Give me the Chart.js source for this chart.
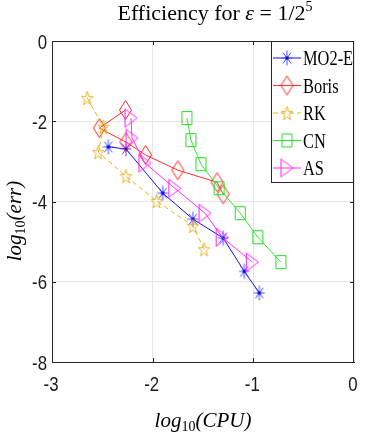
<!DOCTYPE html>
<html>
<head>
<meta charset="utf-8">
<script src="https://cdn.jsdelivr.net/npm/chart.js@4"></script>
<style>
  body { margin: 0; background: #fff; }
  canvas { display: block; }
</style>
</head>
<body>
<canvas id="grafico" width="392" height="436"></canvas>
<script>
// ---------- Datos (log10 CPU vs log10 err) ----------

const metodos = ['MO2-E', 'Boris', 'RK', 'CN', 'AS'];

const cpuMO2E = [-2.44, -2.265, -1.90, -1.60, -1.30, -1.09, -0.94];
const errMO2E = [-2.64, -2.69, -3.79, -4.44, -4.91, -5.74, -6.28];

const cpuBoris = [-2.27, -2.53, -2.265, -2.07, -1.75, -1.36, -1.30];
const errBoris = [-1.72, -2.17, -2.52, -2.84, -3.22, -3.52, -3.82];

const cpuRK = [-2.65, -2.49, -2.54, -2.265, -1.96, -1.60, -1.49];
const errRK = [-1.42, -2.14, -2.77, -3.37, -3.99, -4.61, -5.19];

const cpuCN = [-1.66, -1.62, -1.52, -1.34, -1.13, -0.955, -0.726];
const errCN = [-1.92, -2.47, -3.07, -3.67, -4.29, -4.89, -5.51];

const cpuAS = [-2.215, -2.205, -2.077, -1.78, -1.48, -1.31, -1.01];
const errAS = [-1.92, -2.42, -3.04, -3.67, -4.29, -4.89, -5.51];

const ticksX = [-3, -2, -1, 0];
const ticksY = [-8, -6, -4, -2, 0];

const EJE = '#262626';

// ---------- Marcadores estilo Matlab ----------

function crearMarcador(tipo, color, w, h) {
  const c = document.createElement('canvas');
  c.width = w + 3;
  c.height = h + 3;
  const g = c.getContext('2d');
  const cx = c.width / 2, cy = c.height / 2, rx = w / 2, ry = h / 2;
  g.strokeStyle = color;
  g.lineWidth = 1;
  g.beginPath();
  if (tipo === 'asterisco') {
    g.moveTo(cx, cy - ry); g.lineTo(cx, cy + ry);
    g.moveTo(cx - rx, cy); g.lineTo(cx + rx, cy);
    g.moveTo(cx - rx * 0.72, cy - ry * 0.72); g.lineTo(cx + rx * 0.72, cy + ry * 0.72);
    g.moveTo(cx - rx * 0.72, cy + ry * 0.72); g.lineTo(cx + rx * 0.72, cy - ry * 0.72);
    g.stroke();
    g.fillStyle = '#0000cc';
    g.fillRect(cx - 1.5, cy - 1.5, 3, 3);
    return c;
  }
  if (tipo === 'diamante') {
    g.moveTo(cx, cy - ry); g.lineTo(cx + rx, cy);
    g.lineTo(cx, cy + ry); g.lineTo(cx - rx, cy);
  } else if (tipo === 'estrella') {
    for (let k = 0; k < 10; k++) {
      const a = -Math.PI / 2 + k * Math.PI / 5;
      const r = k % 2 === 0 ? 1 : 0.4;
      const px = cx + Math.cos(a) * rx * r;
      const py = cy + 0.1 * ry + Math.sin(a) * ry * r;
      if (k === 0) g.moveTo(px, py); else g.lineTo(px, py);
    }
  } else if (tipo === 'cuadrado') {
    g.rect(cx - rx, cy - ry, w, h);
  } else if (tipo === 'triangulo') {
    g.moveTo(cx - rx, cy - ry); g.lineTo(cx + rx, cy); g.lineTo(cx - rx, cy + ry);
  }
  g.closePath();
  g.stroke();
  return c;
}

const estilos = [
  { linea: '#1010ff', marca: crearMarcador('asterisco', '#5050ff', 11, 15), dash: [] },
  { linea: '#ff2a2a', marca: crearMarcador('diamante', '#ff2020', 12, 19), dash: [] },
  { linea: '#EDB120', marca: crearMarcador('estrella', '#EDB120', 12, 15), dash: [5, 3] },
  { linea: '#2ee82e', marca: crearMarcador('cuadrado', '#22e022', 10, 13), dash: [] },
  { linea: '#ff30ff', marca: crearMarcador('triangulo', '#ff22ff', 12, 18), dash: [] }
];

const series = [
  [cpuMO2E, errMO2E],
  [cpuBoris, errBoris],
  [cpuRK, errRK],
  [cpuCN, errCN],
  [cpuAS, errAS]
];

// ---------- Texto con sub/superíndices ----------

function dibujarTrozos(ctx, trozos, x, y) {
  let ancho = 0;
  trozos.forEach(t => { ctx.font = t.f; ancho += ctx.measureText(t.t).width; });
  let px = x - ancho / 2;
  ctx.textBaseline = 'alphabetic';
  ctx.textAlign = 'left';
  trozos.forEach(t => {
    ctx.font = t.f;
    ctx.fillText(t.t, px, y + (t.dy || 0));
    px += ctx.measureText(t.t).width;
  });
}

// texto estrecho (las etiquetas del original son altas y angostas)
function textoEstrecho(ctx, txt, x, y, align, escala) {
  ctx.save();
  ctx.translate(x, y);
  ctx.scale(escala, 1);
  ctx.textAlign = align;
  ctx.textBaseline = 'alphabetic';
  ctx.fillText(txt, 0, 0);
  ctx.restore();
}

const decoraciones = {
  id: 'decoraciones',
  afterDraw(chart) {
    const ctx = chart.ctx;
    const { left, right, top, bottom } = chart.chartArea;
    const sx = chart.scales.x, sy = chart.scales.y;

    ctx.save();
    // caja y marcas interiores
    ctx.strokeStyle = EJE;
    ctx.lineWidth = 1;
    ctx.beginPath();
    ctx.moveTo(left, top + 0.5); ctx.lineTo(right, top + 0.5);
    ctx.moveTo(right - 0.5, top); ctx.lineTo(right - 0.5, bottom);
    ticksX.slice(1, -1).forEach(v => {
      const px = Math.round(sx.getPixelForValue(v)) + 0.5;
      ctx.moveTo(px, bottom); ctx.lineTo(px, bottom - 4);
      ctx.moveTo(px, top); ctx.lineTo(px, top + 4);
    });
    ticksY.slice(1, -1).forEach(v => {
      const py = Math.round(sy.getPixelForValue(v)) + 0.5;
      ctx.moveTo(left, py); ctx.lineTo(left + 4, py);
      ctx.moveTo(right, py); ctx.lineTo(right - 4, py);
    });
    ctx.stroke();

    // etiquetas de las marcas, con las posiciones de las escalas
    ctx.fillStyle = '#1a1a1a';
    ctx.font = '21px "Liberation Sans"';
    sx.ticks.forEach(t => {
      textoEstrecho(ctx, String(t.value), sx.getPixelForValue(t.value) - 1, 391, 'center', 0.8);
    });
    sy.ticks.forEach(t => {
      textoEstrecho(ctx, String(t.value), 47, sy.getPixelForValue(t.value) + 7.5, 'right', 0.8);
    });

    // leyenda
    const lx = 271, ly = 41, lw = 83, lh = 142;
    ctx.fillStyle = '#fff';
    ctx.fillRect(lx, ly, lw, lh);
    ctx.strokeStyle = EJE;
    ctx.strokeRect(lx + 0.5, ly + 0.5, lw - 1, lh - 1);
    metodos.forEach((nombre, i) => {
      const yy = 58 + i * 27.5;
      const e = estilos[i];
      ctx.strokeStyle = e.linea;
      ctx.setLineDash(e.dash);
      ctx.beginPath();
      ctx.moveTo(273, yy); ctx.lineTo(301, yy);
      ctx.stroke();
      ctx.setLineDash([]);
      ctx.drawImage(e.marca, 287 - e.marca.width / 2, yy - e.marca.height / 2);
      ctx.fillStyle = '#000';
      ctx.font = '20px "Liberation Serif"';
      textoEstrecho(ctx, nombre, 303, yy + 7, 'left', 0.82);
    });

    // título
    ctx.fillStyle = '#000';
    dibujarTrozos(ctx, [
      { t: 'Efficiency for ', f: '22px "Liberation Serif"' },
      { t: 'ε', f: 'italic 22px "Liberation Serif"' },
      { t: ' = 1/2', f: '22px "Liberation Serif"' },
      { t: '5', f: '14px "Liberation Serif"', dy: -9 }
    ], 215, 20);

    // etiqueta eje x
    dibujarTrozos(ctx, [
      { t: 'log', f: 'italic 21px "Liberation Serif"' },
      { t: '10', f: '14px "Liberation Serif"', dy: 4 },
      { t: '(CPU)', f: 'italic 21px "Liberation Serif"' }
    ], 203, 427);

    // etiqueta eje y
    ctx.translate(21, 221);
    ctx.rotate(-Math.PI / 2);
    dibujarTrozos(ctx, [
      { t: 'log', f: 'italic 21px "Liberation Serif"' },
      { t: '10', f: '14px "Liberation Serif"', dy: 4 },
      { t: '(err)', f: 'italic 21px "Liberation Serif"' }
    ], 0, 0);
    ctx.restore();
  }
};

// ---------- Gráfica ----------

const ctx = document.getElementById('grafico').getContext('2d');

new Chart(ctx, {
  type: 'scatter',
  data: {
    datasets: series.map((s, i) => ({
      label: metodos[i],
      data: s[0].map((x, k) => ({ x: x, y: s[1][k] })),
      showLine: true,
      borderColor: estilos[i].linea,
      borderWidth: 1,
      borderDash: estilos[i].dash,
      pointStyle: estilos[i].marca,
      pointRadius: 6,
      order: 5 - i
    }))
  },
  options: {
    responsive: false,
    animation: false,
    events: [],
    layout: { padding: { top: 41, right: 38, left: 0, bottom: 0 } },
    plugins: {
      legend: { display: false },
      title: { display: false },
      tooltip: { enabled: false }
    },
    scales: {
      x: {
        type: 'linear',
        min: -3,
        max: 0,
        afterBuildTicks: s => { s.ticks = ticksX.map(v => ({ value: v })); },
        afterFit: s => { s.height = 74; },
        ticks: { display: false },
        grid: { color: '#e6e6e6', drawTicks: false },
        border: { color: EJE }
      },
      y: {
        min: -8,
        max: 0,
        afterBuildTicks: s => { s.ticks = ticksY.map(v => ({ value: v })); },
        afterFit: s => { s.width = 52; },
        ticks: { display: false },
        grid: { color: '#e6e6e6', drawTicks: false },
        border: { color: EJE }
      }
    }
  },
  plugins: [decoraciones]
});
</script>
</body>
</html>
